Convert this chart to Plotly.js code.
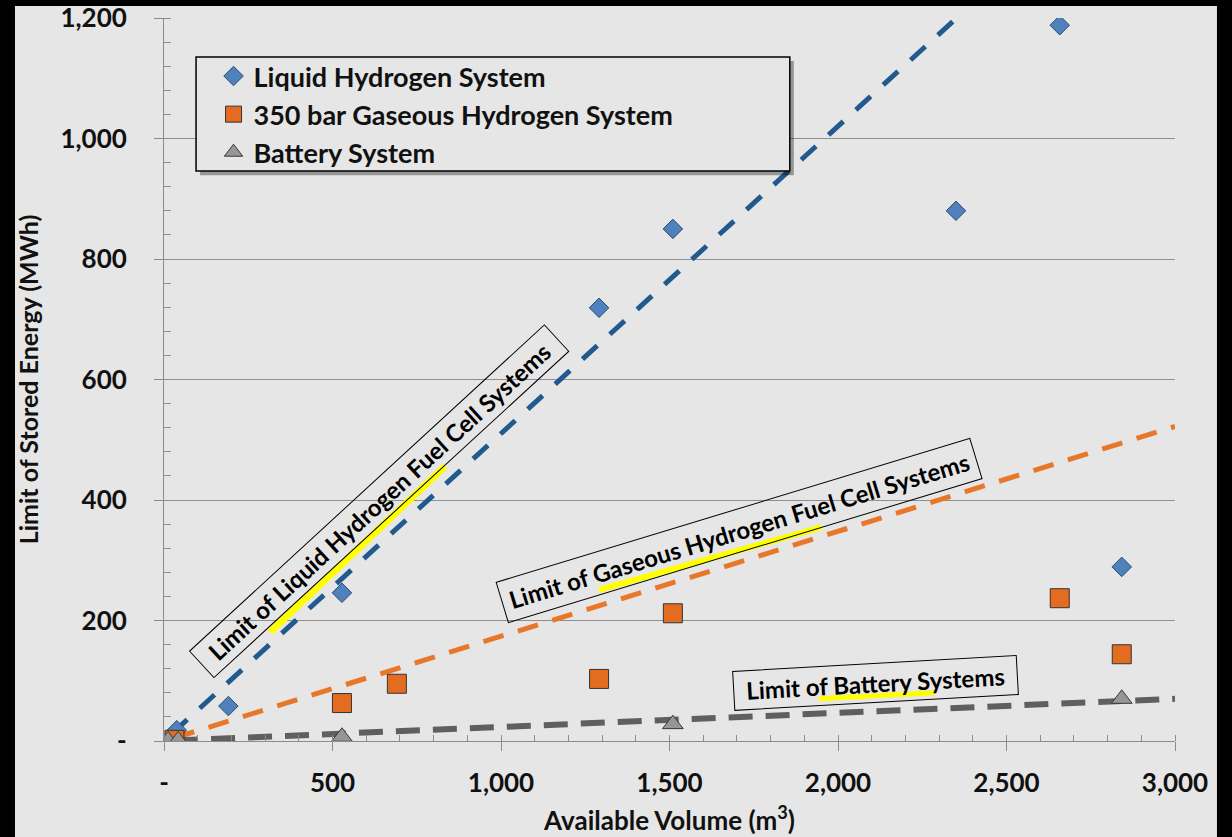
<!DOCTYPE html>
<html>
<head>
<meta charset="utf-8">
<script src="https://cdn.plot.ly/plotly-3.0.1.min.js"></script>
<style>html,body{margin:0;padding:0;background:#000;}#chart{width:1232px;height:837px;}</style>
</head>
<body>
<div id="chart"></div>
<script>
// ---- data ----
var liquidX = [38, 191, 528, 1291, 1510, 2350, 2658, 2842];
var liquidY = [18, 58, 246, 719, 850, 880, 1188, 289];

var gasX = [31, 528, 691, 1291, 1510, 2658, 2842];
var gasY = [2, 63, 95, 103, 212, 237, 144];

var batteryX = [12, 42, 528, 1510, 2842];
var batteryY = [1, 1, 7, 28, 70];

// dashed limit lines (end points)
var liquidLimitX = [25, 2352];
var liquidLimitY = [13, 1200];
var gasLimitX = [30, 3000];
var gasLimitY = [5, 522];
var batteryLimitX = [30, 3000];
var batteryLimitY = [0.7, 70];

var seriesNames = ['Liquid Hydrogen System', '350 bar Gaseous Hydrogen System', 'Battery System'];

var xTickVals = [0, 500, 1000, 1500, 2000, 2500, 3000];
var xTickText = ['-', '500', '1,000', '1,500', '2,000', '2,500', '3,000'];
var yTickVals = [0, 200, 400, 600, 800, 1000, 1200];
var yTickText = ['-', '200', '400', '600', '800', '1,000', '1,200'];

var limitLabels = ['Limit of Liquid Hydrogen Fuel Cell Systems',
                   'Limit of Gaseous Hydrogen Fuel Cell Systems',
                   'Limit of Battery Systems'];

// ---- chart ----
var FONT = 'Lato, "Open Sans", sans-serif';

var traces = [
  {x: liquidLimitX, y: liquidLimitY, mode: 'lines', showlegend: false, hoverinfo: 'skip',
   line: {color: '#215a8e', width: 5, dash: '20px,17px'}},
  {x: gasLimitX, y: gasLimitY, mode: 'lines', showlegend: false, hoverinfo: 'skip',
   line: {color: '#e8772a', width: 5, dash: '21px,15px'}},
  {x: batteryLimitX, y: batteryLimitY, mode: 'lines', showlegend: false, hoverinfo: 'skip',
   line: {color: '#5f5f5f', width: 6, dash: '24px,13px'}},
  {x: liquidX, y: liquidY, mode: 'markers', name: seriesNames[0], legendgroup: 'a',
   marker: {symbol: 'diamond', size: 15, color: '#4f81bd', line: {color: '#2d4a6b', width: 1}}},
  {x: gasX, y: gasY, mode: 'markers', name: seriesNames[1], legendgroup: 'b',
   marker: {symbol: 'square', size: 19, color: '#e36c20', line: {color: '#333333', width: 1}}},
  {x: batteryX, y: batteryY, mode: 'markers', name: seriesNames[2], legendgroup: 'c',
   marker: {symbol: 'triangle-up', size: 18, color: '#969696', line: {color: '#383838', width: 1}}}
];

var axisCommon = {
  showline: true, linecolor: '#8c8c8c', linewidth: 1,
  ticks: 'outside', ticklen: 9, tickcolor: '#8c8c8c', tickwidth: 1,
  tickfont: {family: FONT, size: 26, color: '#111', weight: 'bold'},
  zeroline: false, fixedrange: true
};

var layout = {
  width: 1232, height: 837,
  margin: {l: 164, r: 57, t: 18, b: 96},
  paper_bgcolor: '#000000',
  plot_bgcolor: 'rgba(0,0,0,0)',
  font: {family: FONT, color: '#111'},
  showlegend: true,
  legend: {
    x: 0.049, y: 0.953, xanchor: 'left', yanchor: 'top',
    bgcolor: 'rgba(0,0,0,0)', borderwidth: 0,
    traceorder: 'grouped', tracegroupgap: 0,
    font: {family: FONT, size: 27, color: '#111', weight: 'bold'}
  },
  xaxis: Object.assign({}, axisCommon, {
    range: [0, 3000],
    tickmode: 'array', tickvals: xTickVals, ticktext: xTickText,
    ticklabelstandoff: 10,
    showgrid: false,
    minor: {tickmode: 'linear', tick0: 0, dtick: 100, ticks: 'inside', ticklen: 6,
            tickcolor: '#8c8c8c', tickwidth: 1, showgrid: false},
    title: {text: 'Available Volume (m<sup>3</sup>)', standoff: 14,
            font: {family: FONT, size: 26, color: '#111', weight: 'bold'}}
  }),
  yaxis: Object.assign({}, axisCommon, {
    range: [0, 1200],
    tickmode: 'array', tickvals: yTickVals, ticktext: yTickText,
    ticklabelstandoff: 22,
    showgrid: true, gridcolor: '#8f8f8f', gridwidth: 1,
    minor: {tickmode: 'linear', tick0: 0, dtick: 40, ticks: 'inside', ticklen: 7,
            tickcolor: '#8c8c8c', tickwidth: 1, showgrid: false},
    title: {text: 'Limit of Stored Energy (MWh)', standoff: 14,
            font: {family: FONT, size: 25, color: '#111', weight: 'bold'}}
  }),
  shapes: [
    // grey chart area inside black frame
    {type: 'rect', xref: 'paper', yref: 'paper', x0: -0.1474, x1: 1.0415, y0: -0.15, y1: 1.0166,
     fillcolor: '#e6e6e6', line: {width: 0}, layer: 'below'},
    // legend shadow and box
    {type: 'rect', xref: 'paper', yref: 'paper', x0: 0.0357, x1: 0.6230, y0: 0.7825, y1: 0.9405,
     fillcolor: 'rgba(0,0,0,0.35)', line: {width: 0}, layer: 'above'},
    {type: 'rect', xref: 'paper', yref: 'paper', x0: 0.0317, x1: 0.6190, y0: 0.7884, y1: 0.9460,
     fillcolor: '#e6e6e6', line: {color: '#000', width: 1.5}, layer: 'above'},
    // yellow highlights
    {type: 'line', x0: 315, y0: 181, x1: 834, y1: 456, line: {color: '#ffff00', width: 7}, layer: 'above'},
    {type: 'line', x0: 1291, y0: 251, x1: 1952, y1: 355, line: {color: '#ffff00', width: 6}, layer: 'above'},
    {type: 'line', x0: 1943, y0: 70, x1: 2288, y1: 80, line: {color: '#ffff00', width: 5}, layer: 'above'}
  ],
  annotations: [
    {x: 638, y: 397, xref: 'x', yref: 'y', text: limitLabels[0], showarrow: false,
     textangle: -42.6, xanchor: 'center', yanchor: 'middle', width: 477, height: 31,
     bordercolor: '#000', borderwidth: 1, borderpad: 2, bgcolor: 'rgba(0,0,0,0)',
     font: {family: FONT, size: 24, color: '#000', weight: 'bold'}},
    {x: 1706, y: 350, xref: 'x', yref: 'y', text: limitLabels[1], showarrow: false,
     textangle: -16.9, xanchor: 'center', yanchor: 'middle', width: 488, height: 35,
     bordercolor: '#000', borderwidth: 1, borderpad: 3, bgcolor: 'rgba(0,0,0,0)',
     font: {family: FONT, size: 24, color: '#000', weight: 'bold'}},
    {x: 2110, y: 97, xref: 'x', yref: 'y', text: limitLabels[2], showarrow: false,
     textangle: -3.2, xanchor: 'center', yanchor: 'middle', width: 277, height: 32,
     bordercolor: '#000', borderwidth: 1, borderpad: 3, bgcolor: 'rgba(0,0,0,0)',
     font: {family: FONT, size: 24, color: '#000', weight: 'bold'}}
  ]
};

Plotly.newPlot('chart', traces, layout, {displayModeBar: false, staticPlot: true});
</script>
</body>
</html>
